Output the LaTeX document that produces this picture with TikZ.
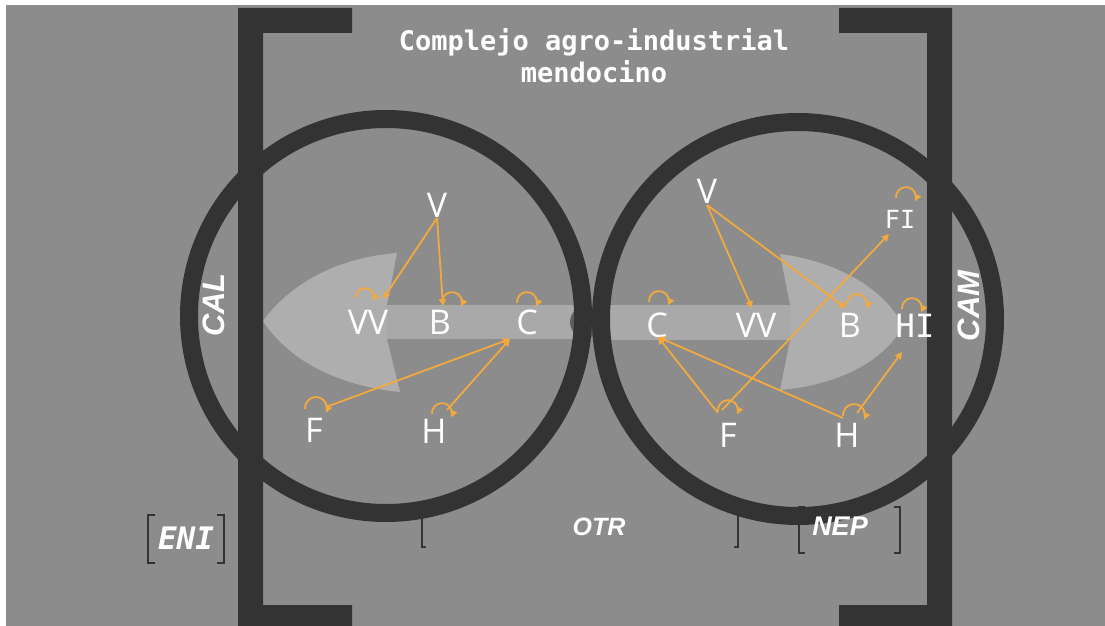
\documentclass[tikz,border=0pt]{standalone}
\usepackage{fontspec}
\usetikzlibrary{arrows.meta}
\newfontfamily\monof{DejaVu Sans Mono}
\newfontfamily\lblf{Open Sans}
\newfontfamily\labsf{Liberation Sans}
\definecolor{bg}{HTML}{8C8C8C}
\definecolor{dk}{HTML}{333333}
\definecolor{lt}{HTML}{A9A9A9}
\definecolor{lthead}{HTML}{AEAEAE}
\definecolor{bump}{HTML}{606060}
\definecolor{org}{HTML}{F2AA3E}
\begin{document}
\begin{tikzpicture}[x=1pt,y=-1pt]
\tikzset{
  ring/.style={draw=dk, line width=18pt},
  bigbr/.style={fill=dk},
  lbl/.style={text=white, font=\lblf\fontsize{34}{34}\selectfont, inner sep=0pt, anchor=base},
  mlbl/.style={text=white, font=\monof\fontsize{32}{32}\selectfont, inner sep=0pt, anchor=base},
  tag/.style={text=white, font=\labsf\bfseries\itshape\fontsize{27}{27}\selectfont, inner sep=0pt, anchor=base},
  oarr/.style={draw=org, line width=1.8pt, -{Triangle[length=7pt,width=7pt]}},
  sbr/.style={draw=dk, line width=1.3pt},
}
\useasboundingbox (0,0) rectangle (1105,626);
\fill[white] (0,0) rectangle (1105,626);
\fill[bg] (6,5) rectangle (1105,626);

% light arrows
\fill[lt] (385,305) rectangle (590,339);
\fill[lthead] (397,253) .. controls (330,258) and (285,290) .. (263,321)
  .. controls (285,355) and (330,385) .. (400,392) -- (387,339) -- (387,305) -- cycle;
\fill[lt] (600,305) rectangle (792,340);
\fill[lthead] (780,254) .. controls (840,262) and (885,290) .. (903,326)
  .. controls (885,360) and (840,385) .. (780,390) -- (790,340) -- (790,305) -- cycle;
\fill[bump] (586,322) circle[radius=16];

% rings
\draw[ring] (386,316) circle[radius=197];
\draw[ring] (798,319) circle[radius=197];

% big brackets
\fill[bigbr] (238,8) -- (352,8) -- (352,33) -- (263,33) -- (263,605) -- (352,605) -- (352,626) -- (238,626) -- cycle;
\fill[bigbr] (952,8) -- (839,8) -- (839,33) -- (927,33) -- (927,605) -- (839,605) -- (839,626) -- (952,626) -- cycle;

% small brackets
\draw[sbr] (155,515) -- (148,515) -- (148,563) -- (155,563);
\draw[sbr] (217,515) -- (224,515) -- (224,563) -- (217,563);
\draw[sbr] (426,514) -- (422,514) -- (422,547) -- (426,547);
\draw[sbr] (734,514) -- (738,514) -- (738,547) -- (734,547);
\draw[sbr] (805,507) -- (799,507) -- (799,553) -- (805,553);
\draw[sbr] (894,507) -- (900,507) -- (900,553) -- (894,553);

% title
\node[text=white, font=\monof\bfseries\fontsize{27}{27}\selectfont, inner sep=0pt, anchor=base] (t1) at (594,51) {Complejo agro-industrial};
\node[text=white, font=\monof\bfseries\fontsize{27}{27}\selectfont, inner sep=0pt, anchor=base] (t2) at (594,82) {mendocino};

% tags
\node[tag, font=\labsf\bfseries\itshape\fontsize{31}{31}\selectfont, anchor=center, rotate=90] (cal) at (214,305) {CAL};
\node[tag, font=\labsf\bfseries\itshape\fontsize{31}{31}\selectfont, anchor=center, rotate=90] (cam) at (969,306) {CAM};
\node[tag] (nep) at (840,535) {NEP};
\node[tag, font=\labsf\bfseries\itshape\fontsize{25}{25}\selectfont] (otr) at (599,535) {OTR};
\node[tag, font=\monof\bfseries\itshape\fontsize{31}{31}\selectfont] (eni) at (186,549) {ENI};

% left labels
\node[lbl] (lV) at (437,217) {V};
\node[lbl] (lVV) at (368,334) {VV};
\node[lbl] (lB) at (440,334) {B};
\node[lbl] (lC) at (527,334) {C};
\node[lbl] (lF) at (314,442) {F};
\node[lbl] (lH) at (434,443) {H};
% right labels
\node[lbl] (rV) at (707,203) {V};
\node[mlbl, font=\monof\fontsize{25}{25}\selectfont] (rFI) at (900,228) {FI};
\node[lbl] (rC) at (657,337) {C};
\node[lbl] (rVV) at (756,337) {VV};
\node[lbl] (rB) at (850,337) {B};
\node[mlbl] (rHI) at (915,337) {HI};
\node[lbl] (rF) at (728,447) {F};
\node[lbl] (rH) at (847,447) {H};

% connector end points
\coordinate (lVo) at (437,218);
\coordinate (lVVi) at (383,299);
\coordinate (lBi) at (443,306);
\coordinate (lCi) at (510,339);
\coordinate (lFo) at (326,407);
\coordinate (lHo) at (447,410);
\coordinate (rVo) at (707,205);
\coordinate (rVVi) at (752,308);
\coordinate (rBi) at (846,308);
\coordinate (rFo) at (722,410);
\coordinate (rFIi) at (889,234);
\coordinate (rCi) at (658,337);
\coordinate (rFo2) at (718,413);
\coordinate (rHo) at (843,418);
\coordinate (rHo2) at (857,413);
\coordinate (rHIi) at (902,352);

% connectors
\draw[oarr] (lVo) -- (lVVi);
\draw[oarr] (lVo) -- (lBi);
\draw[oarr] (lFo) -- (lCi);
\draw[oarr] (lHo) -- (lCi);
\draw[oarr] (rVo) -- (rVVi);
\draw[oarr] (rVo) -- (rBi);
\draw[oarr] (rFo) -- (rFIi);
\draw[oarr] (rFo2) -- (rCi);
\draw[oarr] (rHo) -- (rCi);
\draw[oarr] (rHo2) -- (rHIi);

% self loops (centre offsets from labels)
\draw[oarr] ([shift={(-3,-37)}]lVV.base) ++(-9,1) arc[start angle=175, end angle=385, radius=9];
\draw[oarr] ([shift={(12,-32)}]lB.base) ++(-10,1) arc[start angle=175, end angle=385, radius=10];
\draw[oarr] ([shift={(0,-32)}]lC.base) ++(-10,1) arc[start angle=175, end angle=385, radius=10];
\draw[oarr] ([shift={(2,-34)}]lF.base) ++(-11,1) arc[start angle=175, end angle=385, radius=11];
\draw[oarr] ([shift={(8,-30)}]lH.base) ++(-10,1) arc[start angle=175, end angle=385, radius=10];
\draw[oarr] ([shift={(6,-31)}]rFI.base) ++(-10,1) arc[start angle=175, end angle=385, radius=10];
\draw[oarr] ([shift={(2,-36)}]rC.base) ++(-10,1) arc[start angle=175, end angle=385, radius=10];
\draw[oarr] ([shift={(7,-33)}]rB.base) ++(-10,1) arc[start angle=175, end angle=385, radius=10];
\draw[oarr] ([shift={(-3,-29)}]rHI.base) ++(-10,1) arc[start angle=175, end angle=385, radius=10];
\draw[oarr] ([shift={(0,-37)}]rF.base) ++(-10,1) arc[start angle=175, end angle=385, radius=10];
\draw[oarr] ([shift={(7,-32)}]rH.base) ++(-11,1) arc[start angle=175, end angle=385, radius=11];
\end{tikzpicture}
\end{document}
